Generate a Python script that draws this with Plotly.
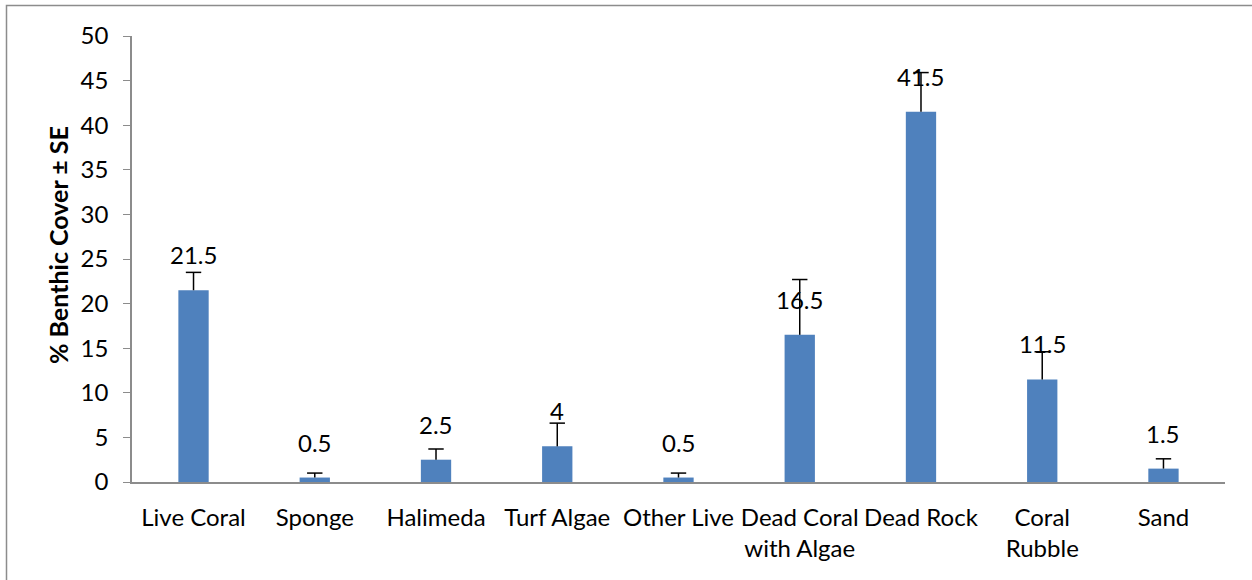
import plotly.graph_objects as go

categories = ["Live Coral", "Sponge", "Halimeda", "Turf Algae", "Other Live",
              "Dead Coral<br>with Algae", "Dead Rock", "Coral<br>Rubble", "Sand"]
values = [21.5, 0.5, 2.5, 4, 0.5, 16.5, 41.5, 11.5, 1.5]
se = [2.0, 0.5, 1.2, 2.6, 0.5, 6.2, 4.4, 3.1, 1.1]
y_ticks = [0, 5, 10, 15, 20, 25, 30, 35, 40, 45, 50]
y_title = "% Benthic Cover ± SE"

W, H = 1252, 580
L, R, T, B = 132, 27, 36, 98
FONT = "Lato"
FS = 24

fig = go.Figure()
fig.add_trace(go.Bar(
    x=categories, y=values,
    marker=dict(color="#4F81BD", line=dict(width=0)),
    width=0.25,
))

# error bars (upper only): stems + caps
sx, sy = [], []
for c, v, e in zip(categories, values, se):
    sx += [c, c, None]
    sy += [v, v + e, None]
fig.add_trace(go.Scatter(x=sx, y=sy, mode="lines",
                         line=dict(color="black", width=1.5),
                         hoverinfo="skip"))
fig.add_trace(go.Scatter(x=categories, y=[v + e for v, e in zip(values, se)],
                         mode="markers",
                         marker=dict(symbol="line-ew", size=11,
                                     line=dict(color="black", width=1.5)),
                         hoverinfo="skip"))

for c, v in zip(categories, values):
    fig.add_annotation(x=c, y=v, text=f"{v:g}", showarrow=False,
                       yanchor="bottom", yshift=19,
                       font=dict(family=FONT, size=FS, color="black"))

pw, ph = W - L - R, H - T - B
# y-axis title
fig.add_annotation(xref="paper", yref="paper",
                   x=(58 - L) / pw, y=(H - B - 245) / ph,
                   text=f"<b>{y_title}</b>", textangle=-90, showarrow=False,
                   xanchor="center", yanchor="middle",
                   font=dict(family=FONT, size=25, color="black"))

fig.add_shape(type="rect", xref="paper", yref="paper",
              x0=(6.5 - L) / pw, x1=(W + 10 - L) / pw,
              y0=-(H + 10 - T - ph) / ph, y1=1 + (T - 5.5) / ph,
              line=dict(color="#8C8C8C", width=1.5))

fig.update_layout(
    width=W, height=H,
    margin=dict(l=L, r=R, t=T, b=B, autoexpand=False),
    paper_bgcolor="white", plot_bgcolor="white",
    showlegend=False,
    font=dict(family=FONT, size=FS, color="black"),
    xaxis=dict(showline=True, linecolor="#8C8C8C", linewidth=1.5,
               ticks="", showgrid=False, tickfont=dict(size=FS),
               ticklabelstandoff=13, automargin=False),
    yaxis=dict(range=[0, 50], tickvals=y_ticks, showline=True,
               linecolor="#8C8C8C", linewidth=1.5, ticks="outside",
               ticklen=7, tickcolor="#8C8C8C", showgrid=False, zeroline=False,
               tickfont=dict(size=FS), ticklabelstandoff=10, automargin=False),
)

fig.write_html("out.html", config={"displayModeBar": False},
               post_script="document.body.style.margin='0';")
